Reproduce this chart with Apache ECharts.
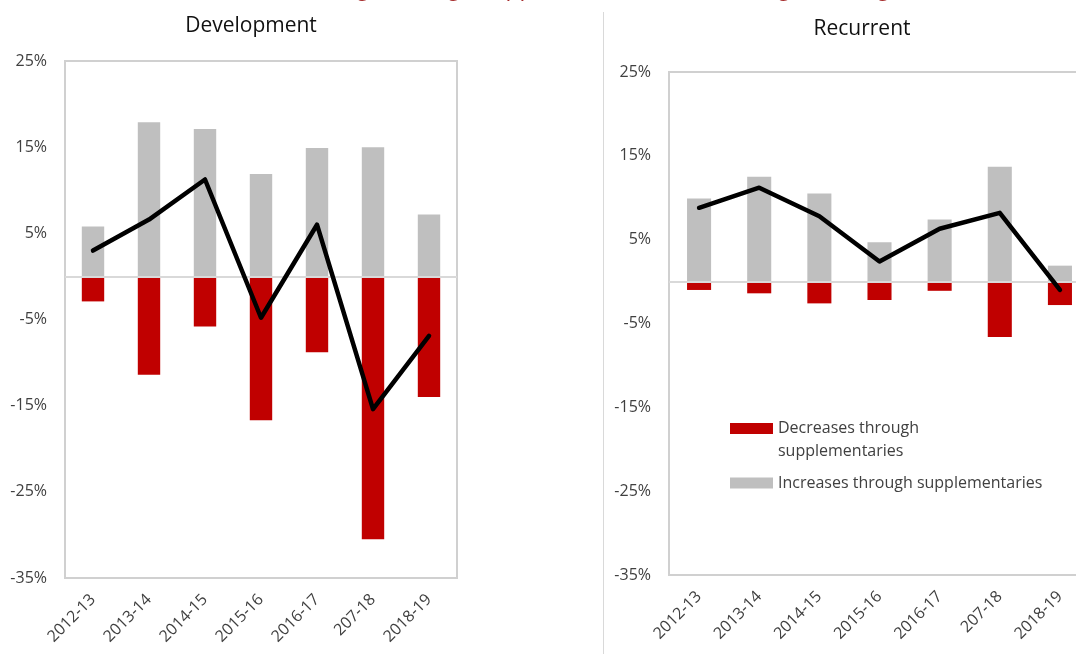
<!DOCTYPE html>
<html>
<head>
<meta charset="utf-8">
<script src="https://cdn.jsdelivr.net/npm/echarts@6/dist/echarts.min.js"></script>
<style>
  html,body{margin:0;padding:0;background:#fff}
  #main{width:1076px;height:654px}
</style>
</head>
<body>
<div id="main"></div>
<script>
// years on the category axis
const years = ['2012-13','2013-14','2014-15','2015-16','2016-17','207-18','2018-19']

// Development (% of original budget)
const devIncrease = [5.8, 17.9, 17.1, 11.9, 14.9, 15.0, 7.2]
const devDecrease = [-2.9, -11.4, -5.8, -16.7, -8.8, -30.5, -14.0]
const devNet = [3.0, 6.6, 11.25, -4.8, 6.0, -15.4, -6.9]

// Recurrent (% of original budget)
const recIncrease = [9.9, 12.5, 10.5, 4.7, 7.4, 13.7, 1.9]
const recDecrease = [-1.0, -1.4, -2.6, -2.2, -1.1, -6.6, -2.8]
const recNet = [8.8, 11.2, 7.8, 2.4, 6.3, 8.2, -1.0]

const yMin = -35, yMax = 25, yStep = 5

const font = 'Open Sans'
const txt = '#404040'
const red = '#C00000'
const grey = '#BFBFBF'

// legend swatches: 11px bar, box stretched by near-invisible specks so the
// swatch lines up with the first text line
const iconTop = 'path://M0,0H43V11H0Z M0,34H0.01V34.01H0Z'
const iconMid = 'path://M0,0H0.01V0.01H0Z M0,11.5H43V22.5H0Z M0,34H0.01V34.01H0Z'

const chart = echarts.init(document.getElementById('main'))

function xAx(i){
  return {
    type:'category', gridIndex:i, data:years,
    axisLine:{show:false}, axisTick:{show:false},
    axisLabel:{rotate:45, interval:0, margin:19, fontSize:16, color:txt, fontFamily:font}
  }
}
function yAx(i){
  return {
    type:'value', gridIndex:i, min:yMin, max:yMax, interval:yStep,
    splitLine:{show:false}, axisLine:{show:false}, axisTick:{show:false},
    axisLabel:{
      margin:18, fontSize:16, color:txt, fontFamily:font,
      formatter:v=> ((v - yMin) % 10 === 0) ? v + '%' : ''
    }
  }
}
function bars(i, name, data, color, withZero){
  const s = {
    name:name, type:'bar', xAxisIndex:i, yAxisIndex:i, data:data,
    barWidth:'40%', barGap:'-100%',
    itemStyle:{color:color}
  }
  if(withZero){
    s.markLine = {
      silent:true, symbol:'none', label:{show:false},
      lineStyle:{color:'#d9d9d9', width:2, type:'solid'},
      data:[{yAxis:0}]
    }
  }
  return s
}
function net(i, data){
  return {
    name:'Net', type:'line', xAxisIndex:i, yAxisIndex:i, data:data,
    showSymbol:false, symbol:'none', z:5,
    lineStyle:{color:'#000', width:4.5, cap:'round', join:'round'}
  }
}

chart.setOption({
  animation:false,
  textStyle:{fontFamily:font},
  title:[
    {text:'(Change through supplementaries as % of original budget)', left:601, top:-28, textAlign:'center',
      textStyle:{color:'#a52a2a', fontSize:23, fontWeight:'normal', fontFamily:font}},
    {text:'Development', left:246, top:11, textAlign:'center',
      textStyle:{color:'#111', fontSize:21, fontWeight:'normal', fontFamily:font}},
    {text:'Recurrent', left:857, top:14, textAlign:'center',
      textStyle:{color:'#111', fontSize:21, fontWeight:'normal', fontFamily:font}}
  ],
  graphic:[
    {type:'line', shape:{x1:603.5, y1:12, x2:603.5, y2:654}, style:{stroke:'#d9d9d9', lineWidth:1}}
  ],
  legend:{
    orient:'vertical', left:725, top:412,
    itemWidth:43, itemHeight:34, itemGap:3,
    textStyle:{fontSize:16, color:txt, fontFamily:font, lineHeight:23},
    data:[
      {name:'Decreases through supplementaries', icon:iconTop},
      {name:'Increases through supplementaries', icon:iconMid}
    ],
    formatter:n=> n === 'Decreases through supplementaries' ? 'Decreases through\nsupplementaries' : n
  },
  grid:[
    {left:65, top:61, width:392, height:517, show:true, borderColor:'#d0d0d0', borderWidth:2, outerBoundsMode:'none'},
    {left:669, top:72, width:421, height:503, show:true, borderColor:'#d0d0d0', borderWidth:2, outerBoundsMode:'none'}
  ],
  xAxis:[xAx(0), xAx(1)],
  yAxis:[yAx(0), yAx(1)],
  series:[
    bars(0, 'Increases through supplementaries', devIncrease, grey, true),
    bars(0, 'Decreases through supplementaries', devDecrease, red, false),
    net(0, devNet),
    bars(1, 'Increases through supplementaries', recIncrease, grey, true),
    bars(1, 'Decreases through supplementaries', recDecrease, red, false),
    net(1, recNet)
  ]
})
</script>
</body>
</html>
